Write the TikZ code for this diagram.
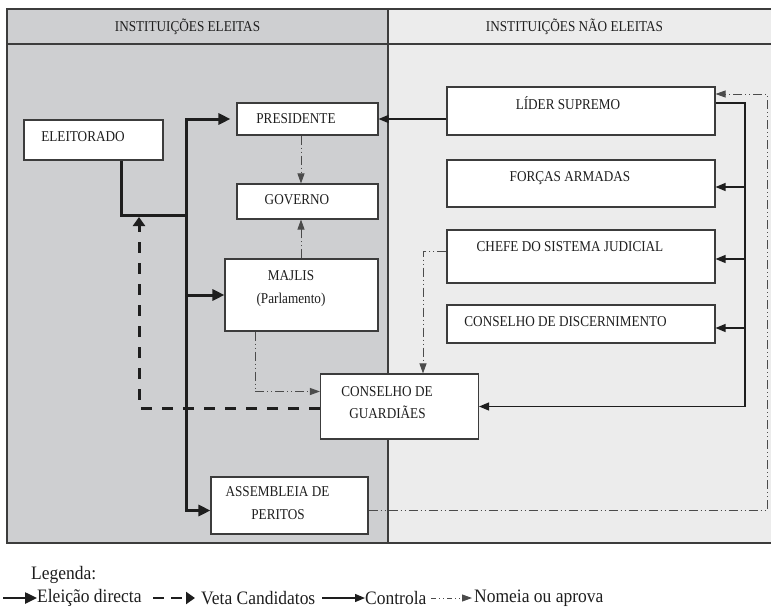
\documentclass[tikz,border=0pt]{standalone}
\usepackage{fontspec}
\setmainfont{Liberation Serif}
\newfontfamily\boxfont[FakeStretch=0.88]{Liberation Serif}
\newfontfamily\legfont[FakeStretch=0.92]{Liberation Serif}
\usetikzlibrary{arrows.meta}
\definecolor{leftgray}{RGB}{206,207,209}
\definecolor{rightgray}{RGB}{236,236,236}
\definecolor{edge}{RGB}{60,60,60}
\definecolor{ink}{RGB}{30,30,30}
\tikzset{
  box/.style={draw=edge, line width=1.1pt, fill=white, inner sep=0pt},
  lbl/.style={inner sep=0pt, text=ink, font=\boxfont\fontsize{15}{17}\selectfont},
  elec/.style={draw=ink, line width=3pt, -{Triangle[length=12pt,width=11pt]}},
  elecline/.style={draw=ink, line width=3pt},
  veta/.style={draw=ink, line width=3pt, dash pattern=on 11pt off 10pt, -{Triangle[length=9pt,width=12pt]}},
  ctrl/.style={draw=ink, line width=1.3pt, -{Triangle[length=10pt,width=8pt]}},
  nom/.style={draw=ink!80, line width=0.9pt, dash pattern=on 9pt off 3pt on 1pt off 3pt on 1pt off 3pt, -{Triangle[length=10pt,width=7pt]}},
  legtext/.style={inner sep=0pt, anchor=west, text=ink, font=\legfont\fontsize{19}{21}\selectfont}
}
\begin{document}
\begin{tikzpicture}[x=1pt,y=-1pt]
\useasboundingbox (0,0) rectangle (771,608);
% panels
\fill[leftgray] (7,9) rectangle (388,543);
\fill[rightgray] (388,9) rectangle (772,543);
\draw[edge, line width=1.1pt] (7,9) rectangle (772,543);
\draw[edge, line width=1.1pt] (7,44) -- (772,44);
\draw[edge, line width=1.1pt] (388,9) -- (388,543);
\node[lbl] (hL) at (187.5,27) {INSTITUIÇÕES ELEITAS};
\node[lbl] (hR) at (574.5,27) {INSTITUIÇÕES NÃO ELEITAS};

% boxes
\node[box, minimum width=139pt, minimum height=40pt] (elei) at (93.5,140) {};
\node[box, minimum width=141pt, minimum height=32pt] (pres) at (307.5,119) {};
\node[box, minimum width=141pt, minimum height=35pt] (gov) at (307.5,201.5) {};
\node[box, minimum width=153pt, minimum height=72pt] (maj) at (301.5,295) {};
\node[box, minimum width=158pt, minimum height=65pt] (cg) at (399.5,406.5) {};
\node[box, minimum width=157pt, minimum height=57pt] (asm) at (289.5,505.5) {};
\node[box, minimum width=268pt, minimum height=48pt] (lid) at (581,111) {};
\node[box, minimum width=268pt, minimum height=47pt] (for) at (581,183.5) {};
\node[box, minimum width=268pt, minimum height=53pt] (chf) at (581,256.5) {};
\node[box, minimum width=268pt, minimum height=38pt] (dis) at (581,324) {};

% texts
\node[lbl] (eleiT) at (83,137) {ELEITORADO};
\node[lbl] (presT) at (296,119) {PRESIDENTE};
\node[lbl] (govT) at (297,200) {GOVERNO};
\node[lbl] (majT) at (291,275.5) {MAJLIS};
\node[lbl] (majT2) at (291,300) {(Parlamento)};
\node[lbl] (cgT) at (387,392) {CONSELHO DE};
\node[lbl] (cgT2) at (387.5,412.5) {GUARDIÃES};
\node[lbl] (asmT) at (277.5,492) {ASSEMBLEIA DE};
\node[lbl] (asmT2) at (278,515) {PERITOS};
\node[lbl] (lidT) at (568,103) {LÍDER SUPREMO};
\node[lbl] (forT) at (570,178) {FORÇAS ARMADAS};
\node[lbl] (chfT) at (570,247) {CHEFE DO SISTEMA JUDICIAL};
\node[lbl] (disT) at (565.5,322) {CONSELHO DE DISCERNIMENTO};

% helper coordinates
\coordinate (tx) at (186,0);
\coordinate (j2) at (186,215);
\coordinate (vtip) at (139,217);
\coordinate (cx) at (745,0);
\coordinate (nx) at (301,0);
\coordinate (mx) at (255,0);
\coordinate (jx) at (423,0);
\coordinate (dx) at (767,0);
\coordinate (forE) at ([yshift=-3.5pt]for.east);
\coordinate (chfE) at ([yshift=-2.5pt]chf.east);
\coordinate (disE) at ([yshift=-4pt]dis.east);
\coordinate (asmW) at ([yshift=-5pt]asm.west);
\coordinate (asmE) at ([yshift=-5pt]asm.east);
\coordinate (lidE) at ([yshift=8pt]lid.east);
\coordinate (lTop) at ([yshift=17pt]lid.east);
\coordinate (cgW) at ([yshift=-1.5pt]cg.west);
\coordinate (cgW2) at ([yshift=15pt]cg.west);
\coordinate (chfW) at ([yshift=5.5pt]chf.west);
\coordinate (eleiS) at ([xshift=27.5pt]elei.south);

% Eleicao directa
\draw[elecline] (eleiS) |- (j2);
\draw[elec, shorten >=6pt] (tx |- asmW) |- (pres.west);
\draw[elec] (j2) |- (asmW);
\draw[elec] (tx |- maj.west) -- (maj.west);

% Veta candidatos
\draw[veta] (cgW) -| (vtip);

% Controla
\draw[ctrl] (lid.west |- pres.east) -- (pres.east);
\draw[ctrl] (lidE) -| (cx |- cg.east) -- (cg.east);
\draw[ctrl] (cx |- forE) -- (forE);
\draw[ctrl] (cx |- chfE) -- (chfE);
\draw[ctrl] (cx |- disE) -- (disE);

% Nomeia ou aprova
\draw[nom] (nx |- pres.south) -- (nx |- gov.north);
\draw[nom] (nx |- maj.north) -- (nx |- gov.south);
\draw[nom] (mx |- maj.south) |- (cgW2);
\draw[nom] (chfW) -| (jx |- cg.north);
\draw[nom] (asmE) -| (dx |- lTop) -- (lTop);

% legend
\node[legtext] (leg) at (31,575) {Legenda:};
\coordinate (l1a) at (3,598); \coordinate (l1b) at (37,598);
\draw[elec, line width=2.5pt] (l1a) -- (l1b);
\node[legtext] (t1) at (37,598) {Eleição directa};
\coordinate (l2a) at (153,598); \coordinate (l2b) at (195,598);
\draw[veta, line width=2.5pt, dash pattern=on 11pt off 7pt] (l2a) -- (l2b);
\node[legtext] (t2) at (201,598) {Veta Candidatos};
\coordinate (l3a) at (322,598); \coordinate (l3b) at (365,598);
\draw[ctrl] (l3a) -- (l3b);
\node[legtext] (t3) at (365,598) {Controla};
\coordinate (l4a) at (431,598); \coordinate (l4b) at (472,598);
\draw[nom, dash pattern=on 5pt off 3pt on 1pt off 3pt on 1pt off 3pt] (l4a) -- (l4b);
\node[legtext] (t4) at (474,598) {Nomeia ou aprova};
\end{tikzpicture}
\end{document}
